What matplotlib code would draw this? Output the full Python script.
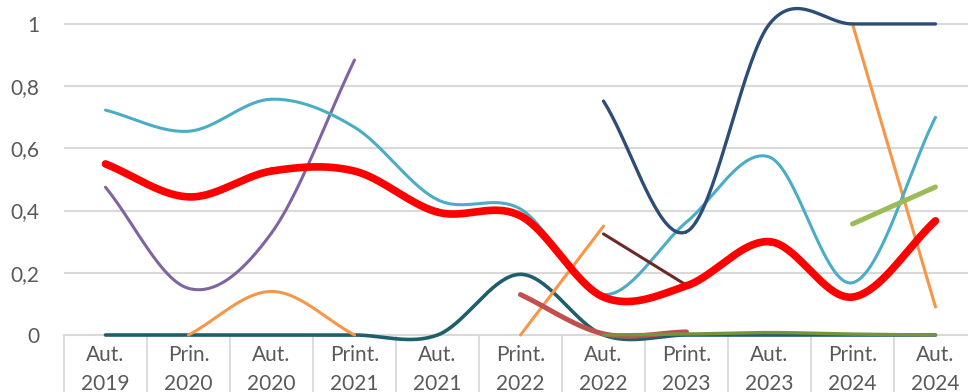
import matplotlib.pyplot as plt
import numpy as np

nan = np.nan
semestre = ["Aut.\n2019", "Prin.\n2020", "Aut.\n2020", "Print.\n2021", "Aut.\n2021",
            "Print.\n2022", "Aut.\n2022", "Print.\n2023", "Aut.\n2023", "Print.\n2024",
            "Aut.\n2024"]

teal = [0, 0, 0, 0, 0, 0.195, 0, 0, 0, 0, 0]
orange = [nan, 0, 0.14, 0, nan, 0, 0.35, nan, nan, 1.0, 0.09]
violet = [0.475, 0.15, 0.328, 0.884, nan, nan, nan, nan, nan, nan, nan]
bleu_clair = [0.723, 0.655, 0.758, 0.668, 0.435, 0.405, 0.13, 0.363, 0.572, 0.168, 0.70]
marine = [nan, nan, nan, nan, nan, nan, 0.752, 0.332, 1.0, 1.0, 1.0]
brun = [nan, nan, nan, nan, nan, nan, 0.325, 0.16, nan, nan, nan]
rouge_brique = [nan, nan, nan, nan, nan, 0.13, 0.004, 0.01, nan, nan, nan]
vert = [nan, nan, nan, nan, nan, nan, nan, nan, nan, 0.357, 0.476]
olive = [nan, nan, nan, nan, nan, nan, 0, 0.003, 0.008, 0.003, 0]
moyenne = [0.55, 0.444, 0.527, 0.527, 0.395, 0.383, 0.122, 0.158, 0.30, 0.122, 0.367]


def lisse(ax, valeurs, **kw):
    # courbe lissée (Catmull-Rom) par morceaux sans trou
    v = np.array(valeurs, dtype=float)
    ok = ~np.isnan(v)
    i = 0
    while i < len(v):
        if not ok[i]:
            i += 1
            continue
        j = i
        while j + 1 < len(v) and ok[j + 1]:
            j += 1
        x = np.arange(i, j + 1, dtype=float)
        y = v[i:j + 1]
        if len(x) == 1:
            i = j + 1
            continue
        px = np.concatenate([[2 * x[0] - x[1]], x, [2 * x[-1] - x[-2]]])
        py = np.concatenate([[2 * y[0] - y[1]], y, [2 * y[-1] - y[-2]]])
        if len(x) == 2:
            xs, ys = x, y
        else:
            xs, ys = [], []
            t = np.linspace(0, 1, 40)
            for k in range(1, len(px) - 2):
                for p, out in ((px, xs), (py, ys)):
                    p0, p1, p2, p3 = p[k - 1], p[k], p[k + 1], p[k + 2]
                    out.extend(0.5 * ((2 * p1) + (-p0 + p2) * t
                                      + (2 * p0 - 5 * p1 + 4 * p2 - p3) * t ** 2
                                      + (-p0 + 3 * p1 - 3 * p2 + p3) * t ** 3))
        ax.plot(xs, ys, solid_capstyle="round", clip_on=False, zorder=3, **kw)
        i = j + 1


fig = plt.figure(figsize=(9.68, 3.92), dpi=100)
ax = fig.add_axes([64 / 968, 57 / 392, 913 / 968, 335 / 392])
plt.rcParams["font.family"] = "Lato"

lisse(ax, teal, color="#215E6C", lw=2.6)
lisse(ax, orange, color="#F79646", lw=2.2)
lisse(ax, violet, color="#8064A2", lw=2.2)
lisse(ax, bleu_clair, color="#4BACC6", lw=2.2)
lisse(ax, marine, color="#2C4D75", lw=2.4)
lisse(ax, brun, color="#6B2A26", lw=2.2)
lisse(ax, rouge_brique, color="#C0504D", lw=3.6)
lisse(ax, vert, color="#9BBB59", lw=3.6)
lisse(ax, olive, color="#77933C", lw=2.4)
lisse(ax, moyenne, color="#FF0000", lw=5.5)

ax.set_xlim(-0.5, 10.5)
ax.set_ylim(0, 1.077)
ax.set_yticks([0, 0.2, 0.4, 0.6, 0.8, 1.0])
ax.set_yticklabels(["0", "0,2", "0,4", "0,6", "0,8", "1"], fontsize=15,
                   color="#595959", family="Lato")
ax.set_xticks(np.arange(len(semestre)))
ax.set_xticklabels(semestre, fontsize=15, color="#595959", family="Lato",
                   linespacing=1.6)
ax.set_xticks(np.arange(-0.5, len(semestre), 1), minor=True)
ax.tick_params(axis="x", which="major", length=0, pad=7)
ax.tick_params(axis="x", which="minor", length=50, color="#D9D9D9", width=1.3)
ax.tick_params(axis="y", length=0, pad=18)
ax.grid(axis="y", color="#D9D9D9", lw=1.5)
ax.set_axisbelow(True)
for s in ["top", "right", "left"]:
    ax.spines[s].set_visible(False)
ax.spines["bottom"].set_color("#D9D9D9")
ax.spines["bottom"].set_linewidth(1.5)

fig.savefig("out.png", dpi=100)
